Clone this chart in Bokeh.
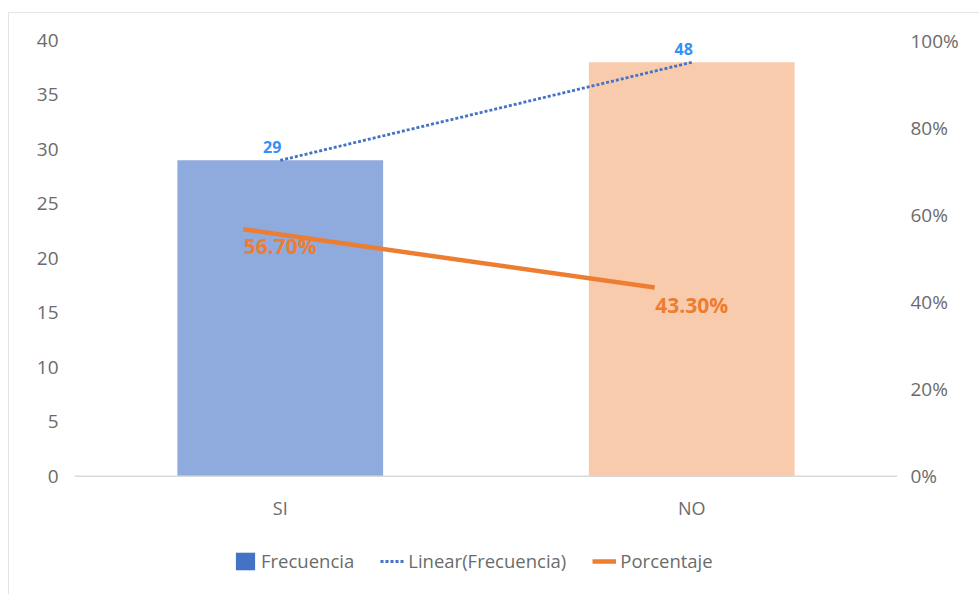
import numpy as np
from bokeh.plotting import figure
from bokeh.models import (Range1d, LinearAxis, FactorRange, Legend, LegendItem,
                          ColumnDataSource, FixedTicker, PrintfTickFormatter, Span)
from bokeh.transform import dodge
from bokeh.core.properties import value
from bokeh.embed import file_html
from bokeh.resources import INLINE

# --- data -------------------------------------------------------------
categorias = ["SI", "NO"]
frecuencia = [29, 38]
porcentaje = [56.7, 43.3]
etiquetas_pct = ["56.70%", "43.30%"]
etiquetas_tend = ["29", "48"]
ticks_frec = [0, 5, 10, 15, 20, 25, 30, 35, 40]
ticks_pct = [0, 20, 40, 60, 80, 100]

# --- styles -----------------------------------------------------------
FONT = "Open Sans"
GRIS = "#6b6b6b"
colores_barras = ["#8FAADC", "#F8CBAD"]
AZUL = "#4472C4"
NARANJA = "#ED7D31"

# linear trend of the frequencies over the category index
idx = np.arange(1, len(frecuencia) + 1)
m, b = np.polyfit(idx, frecuencia, 1)
tendencia = list(m * idx + b)

src = ColumnDataSource(dict(cat=categorias, frec=frecuencia, color=colores_barras,
                            pct=porcentaje, lbl_pct=etiquetas_pct,
                            tend=tendencia, lbl_tend=etiquetas_tend,
                            base=[0] * len(categorias)))

# plot frame runs down to the bottom edge so the category labels and the
# legend can sit under the zero line; value 40 at the top, 10.875 px per unit
FRAME_H = 554
PX_PER_UNIT = 435 / 40
y_bottom = 40 - FRAME_H / PX_PER_UNIT

p = figure(x_range=FactorRange(*categorias, range_padding=0),
           y_range=Range1d(y_bottom, 40),
           x_axis_location=None,
           width=971, height=582, margin=(12, 0, 0, 8),
           min_border_left=65, min_border_right=83,
           min_border_top=27, min_border_bottom=0,
           output_backend="svg", toolbar_location=None)
p.styles = {"border-top": "1px solid #e4e4e4", "border-left": "1px solid #e4e4e4"}
p.outline_line_color = None
p.xgrid.visible = False
p.ygrid.visible = False

# left axis (frequency)
ay = p.yaxis[0]
ay.ticker = FixedTicker(ticks=ticks_frec)
ay.axis_line_color = None
ay.major_tick_line_color = None
ay.minor_tick_line_color = None
ay.major_label_standoff = 10
ay.major_label_text_font = FONT
ay.major_label_text_font_size = "19px"
ay.major_label_text_color = GRIS

# right axis (percentage)
p.extra_y_ranges = {"pct": Range1d(y_bottom * 2.5, 100)}
ar = LinearAxis(y_range_name="pct", ticker=FixedTicker(ticks=ticks_pct),
                formatter=PrintfTickFormatter(format="%d%%"))
ar.axis_line_color = None
ar.major_tick_line_color = None
ar.minor_tick_line_color = None
ar.major_label_standoff = 7
ar.major_label_text_font = FONT
ar.major_label_text_font_size = "19px"
ar.major_label_text_color = GRIS
p.add_layout(ar, "right")

# bars
p.vbar(x="cat", top="frec", width=0.5, fill_color="color", line_color=None, source=src)

# zero line and category labels
p.add_layout(Span(location=0, dimension="width", line_color="#d9d9d9", line_width=1.5))
p.text(x="cat", y="base", text="cat", source=src, y_offset=32,
       text_align="center", text_baseline="middle", text_font=value(FONT),
       text_font_size="18px", text_color=GRIS)

# trend line and its labels
r_tend = p.line(x="cat", y="tend", source=src, line_color=AZUL, line_width=2.8,
                line_dash="3 2")
p.text(x="cat", y="tend", text="lbl_tend", source=src, x_offset=-8, y_offset=-13,
       text_align="center", text_baseline="middle", text_font=value(FONT),
       text_font_size="16px", text_font_style="bold", text_color="#3390F5")

# percentage line and its labels
r_pct = p.line(x=dodge("cat", -0.09, range=p.x_range), y="pct", source=src,
               y_range_name="pct", line_color=NARANJA, line_width=4.5)
p.text(x="cat", y="pct", text="lbl_pct", source=src, y_range_name="pct",
       y_offset=17, text_align="center", text_baseline="middle",
       text_font=value(FONT), text_font_size="21px", text_font_style="bold",
       text_color=NARANJA)

# legend swatch for the frequency series (zero-height bar, only the key shows)
r_frec = p.vbar(x=categorias[:1], top=[0], width=0.5, fill_color=AZUL, line_color=None)

legend = Legend(items=[LegendItem(label="Frecuencia", renderers=[r_frec]),
                       LegendItem(label="Linear(Frecuencia)", renderers=[r_tend]),
                       LegendItem(label="Porcentaje", renderers=[r_pct])],
                orientation="horizontal", location=(159, 22),
                glyph_width=24, glyph_height=22, label_standoff=4, spacing=26,
                padding=0, margin=0, border_line_color=None,
                background_fill_alpha=0,
                label_text_font=FONT, label_text_font_size="18.5px",
                label_text_color=GRIS)
p.add_layout(legend)

open("out.html", "w").write(file_html(p, INLINE))
